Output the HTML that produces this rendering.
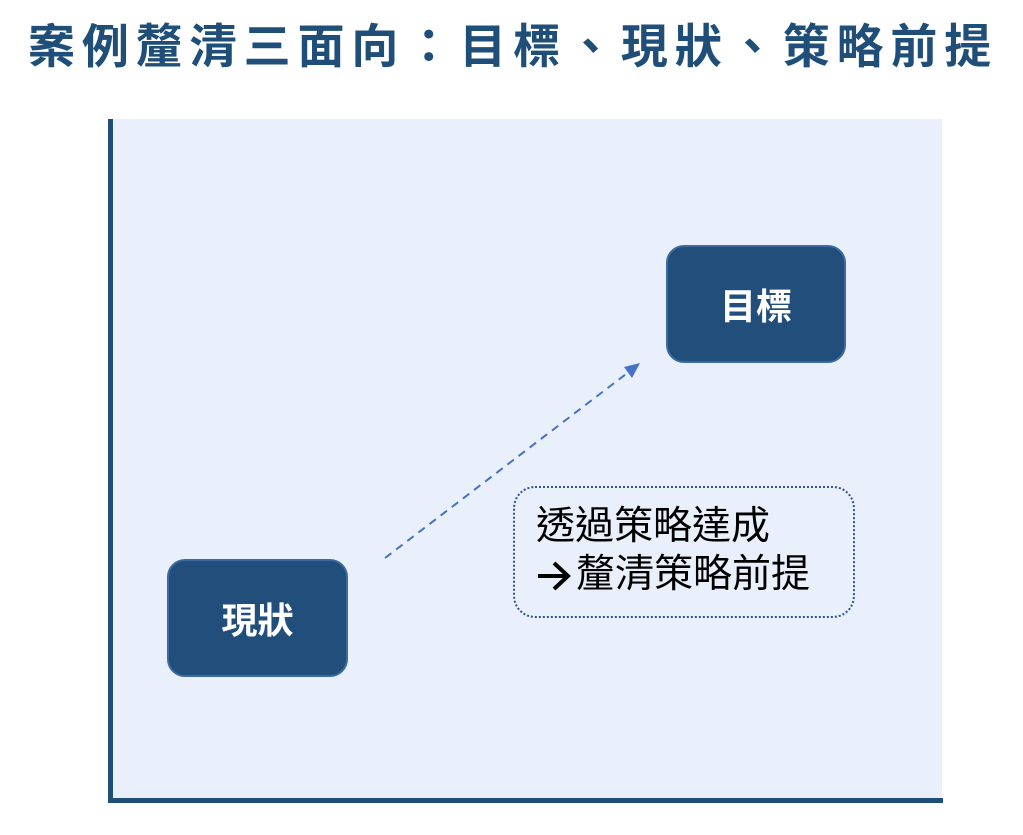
<!DOCTYPE html>
<html><head><meta charset="utf-8"><style>
body{margin:0;width:1023px;height:835px;background:#fff;position:relative;overflow:hidden;font-family:"Liberation Sans","Noto Sans CJK TC",sans-serif}
.t{position:absolute;left:28px;top:14px;font-size:47px;font-weight:bold;color:#1f4e79;letter-spacing:6.9px;white-space:nowrap;line-height:66px}
.bg{position:absolute;left:108px;top:119px;width:834px;height:681px;background:#e9f0fb}
.ax{position:absolute;background:#1f4e79}
.box{position:absolute;background:#214e7a;border:2px solid #3a6aa0;border-radius:18px;color:#fff;font-weight:bold;font-size:36px;display:flex;align-items:center;justify-content:center;box-sizing:border-box}
.note{position:absolute;left:513px;top:486px;width:342px;height:132px;border:2px dotted #2f5597;border-radius:22px;box-sizing:border-box}
.ln{position:absolute;font-size:39px;line-height:48px;color:#000;white-space:nowrap}
</style></head><body>
<div class="t">案例釐清三面向：目標、現狀、策略前提</div>
<div class="bg"></div>
<div class="ax" style="left:108px;top:119px;width:5px;height:684px"></div>
<div class="ax" style="left:108px;top:798px;width:835px;height:5px"></div>
<div class="box" style="left:666px;top:245px;width:180px;height:118px">目標</div>
<div class="box" style="left:167px;top:559px;width:181px;height:118px">現狀</div>
<svg style="position:absolute;left:0;top:0" width="1023" height="835">
<line x1="385" y1="558" x2="630" y2="371" stroke="#4472c4" stroke-width="2" stroke-dasharray="8,6"/>
<polygon points="640,363 624,367 632,378" fill="#4472c4"/>
<path d="M538 576 H566 M554 563 L568 576 L554 589" stroke="#000" stroke-width="4" fill="none"/>
</svg>
<div class="note"></div>
<div class="ln" style="left:536px;top:503px">透過策略達成</div>
<div class="ln" style="left:576px;top:551px">釐清策略前提</div>
</body></html>
